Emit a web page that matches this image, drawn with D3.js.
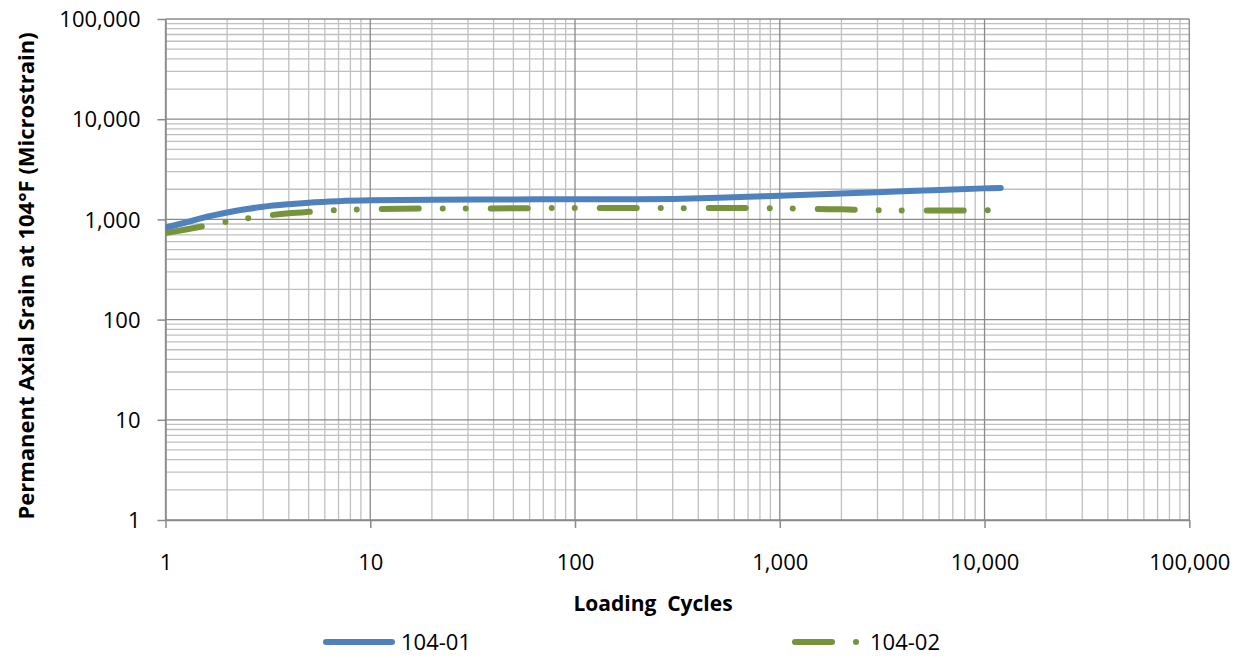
<!DOCTYPE html>
<html lang="en">
<head>
	<meta charset="UTF-8"/>
	<title>Permanent Axial Strain 104F</title>
	<script src="https://d3js.org/d3.v7.min.js"></script>
	<style>
		body { margin: 0; background: #fff; }
		text { font-family: "Open Sans", "Noto Sans", sans-serif; fill: #000; }
	</style>
</head>
<body>
	<div id="chart-container"></div>

	<script>
	var w = 1247;
	var h = 658;

	// data
	var cycles01 = [1, 1.2, 1.5, 2, 2.5, 3, 4, 5, 7, 10, 20, 50, 100, 200, 300, 500, 700, 1000, 2000, 3000, 5000, 7000, 10000, 12000];
	var strain01 = [830, 910, 1030, 1170, 1270, 1340, 1420, 1470, 1520, 1550, 1570, 1580, 1590, 1590, 1600, 1640, 1680, 1720, 1810, 1870, 1940, 1990, 2040, 2060];

	var cycles02 = [1, 1.2, 1.6, 2, 3, 4, 5, 7, 10, 20, 50, 100, 200, 300, 500, 1000, 1500, 2000, 3000, 5000, 10000, 12000];
	var strain02 = [730, 780, 870, 950, 1080, 1150, 1190, 1240, 1265, 1285, 1290, 1300, 1300, 1295, 1300, 1290, 1270, 1260, 1235, 1225, 1230, 1245];

	var seriesNames = ["104-01", "104-02"];
	var seriesColors = ["#4F81BD", "#77933C"];

	var cycleTicks = [1, 10, 100, 1000, 10000, 100000];
	var strainTicks = [1, 10, 100, 1000, 10000, 100000];

	var xTitle = "Loading\u00a0\u00a0Cycles";
	var yTitle = "Permanent Axial Srain at 104\u00b0F (Microstrain)";

	var plotLeft = 165.5, plotRight = 1189.3, plotTop = 19, plotBottom = 520;

	var xScale = d3.scaleLog().domain([1, 100000]).range([plotLeft, plotRight]);
	var yScale = d3.scaleLog().domain([1, 100000]).range([plotBottom, plotTop]);

	var svg = d3.select("#chart-container")
		.append("svg")
		.attr("width", w)
		.attr("height", h);

	svg.append("defs").append("clipPath")
		.attr("id", "plot-clip")
		.append("rect")
		.attr("x", plotLeft)
		.attr("y", plotTop)
		.attr("width", plotRight - plotLeft)
		.attr("height", plotBottom - plotTop);

	// minor grid values: 2..9 times each decade
	var minor = [];
	for (var d = 0; d < 5; d++) {
		for (var m = 2; m <= 9; m++) {
			minor.push(m * Math.pow(10, d));
		}
	}

	var grid = svg.append("g");
	grid.selectAll("line.vminor")
		.data(minor)
		.enter()
		.append("line")
		.attr("x1", function (d) { return xScale(d); })
		.attr("x2", function (d) { return xScale(d); })
		.attr("y1", plotTop)
		.attr("y2", plotBottom)
		.attr("stroke", "#c0c0c0")
		.attr("stroke-width", 1.3);
	grid.selectAll("line.hminor")
		.data(minor)
		.enter()
		.append("line")
		.attr("y1", function (d) { return yScale(d); })
		.attr("y2", function (d) { return yScale(d); })
		.attr("x1", plotLeft)
		.attr("x2", plotRight)
		.attr("stroke", "#c0c0c0")
		.attr("stroke-width", 1.3);

	// major grid
	grid.selectAll("line.vmajor")
		.data(cycleTicks)
		.enter()
		.append("line")
		.attr("x1", function (d) { return xScale(d); })
		.attr("x2", function (d) { return xScale(d); })
		.attr("y1", plotTop)
		.attr("y2", plotBottom)
		.attr("stroke", "#8a8a8a")
		.attr("stroke-width", 1.3);
	grid.selectAll("line.hmajor")
		.data(strainTicks)
		.enter()
		.append("line")
		.attr("y1", function (d) { return yScale(d); })
		.attr("y2", function (d) { return yScale(d); })
		.attr("x1", plotLeft)
		.attr("x2", plotRight)
		.attr("stroke", "#8a8a8a")
		.attr("stroke-width", 1.3);

	var fmt = d3.format(",");

	// axes
	var xAxis = d3.axisBottom(xScale)
		.tickValues(cycleTicks)
		.tickFormat(fmt)
		.tickSizeInner(8)
		.tickSizeOuter(0)
		.tickPadding(26);
	var gx = svg.append("g")
		.attr("transform", "translate(0," + plotBottom + ")")
		.call(xAxis);

	var yAxis = d3.axisLeft(yScale)
		.tickValues(strainTicks)
		.tickFormat(fmt)
		.tickSizeInner(8)
		.tickSizeOuter(0)
		.tickPadding(17);
	var gy = svg.append("g")
		.attr("transform", "translate(" + plotLeft + ",0)")
		.call(yAxis);

	[gx, gy].forEach(function (g) {
		g.select(".domain").attr("stroke", "#8a8a8a").attr("stroke-width", 1.5);
		g.selectAll(".tick line").attr("stroke", "#8a8a8a").attr("stroke-width", 1.5);
		g.selectAll(".tick text")
			.attr("font-family", "'Open Sans', sans-serif")
			.attr("font-size", "22px")
			.attr("fill", "#000");
	});
	gy.selectAll(".tick text").attr("dy", "0.35em");

	// series
	var line = d3.line()
		.x(function (d) { return xScale(d[0]); })
		.y(function (d) { return yScale(d[1]); })
		.curve(d3.curveMonotoneX);

	var plot = svg.append("g").attr("clip-path", "url(#plot-clip)");

	plot.append("path")
		.datum(d3.zip(cycles02, strain02))
		.attr("d", line)
		.attr("fill", "none")
		.attr("stroke", seriesColors[1])
		.attr("stroke-width", 6)
		.attr("stroke-linecap", "round")
		.attr("stroke-dasharray", "37 24 0 23 0 25");

	plot.append("path")
		.datum(d3.zip(cycles01, strain01))
		.attr("d", line)
		.attr("fill", "none")
		.attr("stroke", seriesColors[0])
		.attr("stroke-width", 6)
		.attr("stroke-linecap", "round");

	// axis titles
	svg.append("text")
		.text(xTitle)
		.attr("x", 653)
		.attr("y", 611)
		.attr("text-anchor", "middle")
		.attr("font-size", "21px")
		.attr("font-weight", "bold");

	svg.append("text")
		.text(yTitle)
		.attr("transform", "translate(34,276) rotate(-90)")
		.attr("text-anchor", "middle")
		.attr("font-size", "22px")
		.attr("font-weight", "bold");

	// legend
	var legend = svg.append("g");
	legend.append("line")
		.attr("x1", 326).attr("x2", 392)
		.attr("y1", 642).attr("y2", 642)
		.attr("stroke", seriesColors[0])
		.attr("stroke-width", 6)
		.attr("stroke-linecap", "round");
	legend.append("text")
		.text(seriesNames[0])
		.attr("x", 401)
		.attr("y", 650)
		.attr("font-size", "22px");

	legend.append("line")
		.attr("x1", 795).attr("x2", 860)
		.attr("y1", 642).attr("y2", 642)
		.attr("stroke", seriesColors[1])
		.attr("stroke-width", 6)
		.attr("stroke-linecap", "round")
		.attr("stroke-dasharray", "37 24 0 23 0 25");
	legend.append("text")
		.text(seriesNames[1])
		.attr("x", 870)
		.attr("y", 650)
		.attr("font-size", "22px");
	</script>
</body>
</html>
